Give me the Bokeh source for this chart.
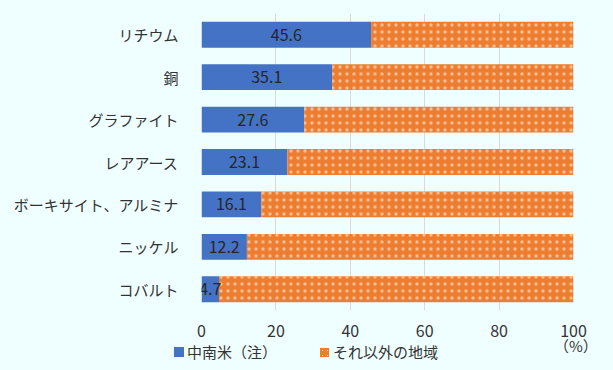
from bokeh.plotting import figure
from bokeh.models import (ColumnDataSource, Range1d, FactorRange, LabelSet, FixedTicker, Div)
from bokeh.layouts import column
from bokeh.core.properties import value
from bokeh.embed import file_html
from bokeh.resources import INLINE

minerals = ["リチウム", "銅", "グラファイト", "レアアース", "ボーキサイト、アルミナ", "ニッケル", "コバルト"]
latam_share = [45.6, 35.1, 27.6, 23.1, 16.1, 12.2, 4.7]
x_ticks = [0, 20, 40, 60, 80, 100]
series_names = ["中南米（注）", "それ以外の地域"]
unit_label = "（%）"

FONT = "Noto Sans CJK JP"
BG = "#EFFFFF"
BLUE = "#4472C4"
ORANGE = "#ED7D31"
TXT = "#333333"
HATCH = dict(hatch_pattern="dot", hatch_color="#FFE6CC", hatch_alpha=0.6,
             hatch_scale=7, hatch_weight=0.5)

src = ColumnDataSource(dict(
    cat=minerals,
    latam=latam_share,
    total=[100.0] * len(minerals),
    mid=[v / 2 for v in latam_share],
    lab=[f"{v:.1f}" for v in latam_share],
))

p = figure(width=613, height=340, output_backend="svg", toolbar_location=None,
           y_range=FactorRange(*reversed(minerals)), x_range=Range1d(0, 100))
p.min_border_left = 201
p.min_border_right = 40
p.min_border_top = 13
p.min_border_bottom = 30
p.background_fill_color = BG
p.border_fill_color = BG
p.outline_line_color = None

p.hbar(y="cat", left=0, right="latam", height=0.61, source=src,
       fill_color=BLUE, line_color=None)
p.hbar(y="cat", left="latam", right="total", height=0.61, source=src,
       fill_color=ORANGE, line_color=None, **HATCH)

labels = LabelSet(x="mid", y="cat", text="lab", source=src, text_align="center",
                  text_baseline="middle", text_font=value(FONT), text_font_size="16px",
                  text_color="#262626")
p.add_layout(labels)

p.xaxis.ticker = FixedTicker(ticks=x_ticks)
p.xaxis.axis_line_color = None
p.xaxis.major_tick_line_color = None
p.xaxis.minor_tick_line_color = None
p.xaxis.major_label_text_font = FONT
p.xaxis.major_label_text_font_size = "16px"
p.xaxis.major_label_text_color = TXT
p.xaxis.major_label_standoff = 8

p.yaxis.axis_line_color = None
p.yaxis.major_tick_line_color = None
p.yaxis.minor_tick_line_color = None
p.yaxis.major_label_text_font = FONT
p.yaxis.major_label_text_font_size = "15px"
p.yaxis.major_label_text_color = TXT
p.yaxis.major_label_standoff = 17

p.xgrid.grid_line_color = "#D9D9D9"
p.xgrid.ticker = FixedTicker(ticks=x_ticks)
p.ygrid.grid_line_color = None

dot_bg = ("background-color:%s;background-image:radial-gradient(circle,#FFE6CC 0.6px,transparent 0.9px);"
          "background-size:5px 5px;" % ORANGE)
legend_html = f"""
<div style="position:relative;width:613px;height:30px;background:{BG};
 font-family:'{FONT}';color:{TXT};overflow:visible;">
 <span style="position:absolute;left:174px;top:7px;width:10px;height:10px;background:{BLUE};"></span>
 <span style="position:absolute;left:187px;top:2px;font-size:15px;line-height:20px;white-space:nowrap;">{series_names[0]}</span>
 <span style="position:absolute;left:320px;top:8px;width:9px;height:9px;{dot_bg}"></span>
 <span style="position:absolute;left:333px;top:2px;font-size:15px;line-height:20px;white-space:nowrap;">{series_names[1]}</span>
 <span style="position:absolute;left:554px;top:-2px;font-size:15px;line-height:16px;white-space:nowrap;">{unit_label}</span>
</div>"""
legend_div = Div(text=legend_html, width=613, height=30, margin=0)

layout = column(p, legend_div, spacing=0)

html = file_html(layout, INLINE)
html = html.replace("</head>", "<style>body{background:%s;}</style></head>" % BG, 1)
open("out.html", "w").write(html)
